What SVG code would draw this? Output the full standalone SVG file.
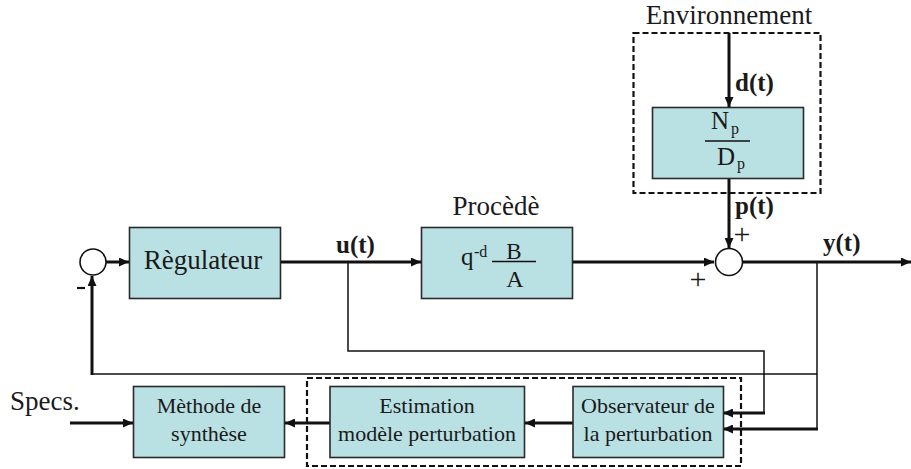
<svg xmlns="http://www.w3.org/2000/svg" width="911" height="469" viewBox="0 0 911 469" font-family="Liberation Serif, DejaVu Serif, serif">
  <defs>
    <marker id="arrow" markerUnits="userSpaceOnUse" markerWidth="11" markerHeight="9" refX="10" refY="4.5" orient="auto">
      <path d="M0,0 L10,4.5 L0,9 z" fill="#111"/>
    </marker>
  </defs>
  <style>
    .box { fill: #b9e0e3; stroke: #2a2a2a; stroke-width: 1.6; }
    .sum { fill: #fff; stroke: #111; stroke-width: 1.6; }
    .dash { fill: none; stroke: #111; stroke-width: 2.2; stroke-dasharray: 6 3; }
    .thick { fill: none; stroke: #111; stroke-width: 3; }
    .thin { fill: none; stroke: #111; stroke-width: 1.5; }
    .arr { marker-end: url(#arrow); }
    text { font-family: 'Liberation Serif', 'DejaVu Serif', serif; fill: #1a1a1a; }
    .lbl { font-size: 27px; }
    .sig { font-size: 25px; font-weight: bold; }
    .small { font-size: 22px; }
    .sub { font-size: 16px; }
    .mid { text-anchor: middle; }
    .sign { font-size: 30px; text-anchor: middle; }
  </style>

  <!-- dashed groupings -->
  <g id="environment">
    <rect class="dash" x="633.5" y="33" width="187" height="160"/>
    <text class="lbl" x="729" y="24" text-anchor="middle">Environnement</text>
  </g>
  <g id="estimation-group">
    <rect class="dash" x="307" y="378" width="434" height="88"/>
  </g>

  <!-- connectors -->
  <g id="connectors">
    <!-- forward path -->
    <line class="thick arr" x1="106" y1="262" x2="129" y2="262"/>
    <line class="thick arr" x1="281" y1="262" x2="421" y2="262"/>
    <line class="thick arr" x1="572" y1="262" x2="714" y2="262"/>
    <line class="thick arr" x1="742" y1="262" x2="911" y2="262"/>
    <!-- disturbance path -->
    <line class="thick arr" x1="729" y1="33" x2="729" y2="107"/>
    <line class="thick arr" x1="729" y1="178" x2="729" y2="248"/>
    <!-- feedback to comparator -->
    <polyline class="thin" points="817,374 92,374"/>
    <line class="thick arr" x1="92" y1="375" x2="92" y2="276"/>
    <!-- u(t) branch to observer -->
    <polyline class="thin" points="348,262 348,351 764,351 764,413"/>
    <line class="thick arr" x1="765" y1="413" x2="723" y2="413"/>
    <!-- y(t) branch to observer -->
    <polyline class="thin" points="817,262 817,429"/>
    <line class="thick arr" x1="818" y1="429" x2="723" y2="429"/>
    <!-- lower chain -->
    <line class="thick arr" x1="573" y1="423" x2="525" y2="423"/>
    <line class="thick arr" x1="330" y1="423" x2="285" y2="423"/>
    <line class="thick arr" x1="70" y1="423" x2="133" y2="423"/>
  </g>

  <!-- comparators -->
  <g id="sum-in">
    <circle class="sum" cx="93" cy="262" r="13"/>
    <line x1="77" y1="288" x2="85" y2="288" stroke="#111" stroke-width="2.2"/>
  </g>
  <g id="sum-out">
    <circle class="sum" cx="729" cy="262" r="13.5"/>
    <text class="sign" x="742" y="244">+</text>
    <text class="sign" x="698" y="289">+</text>
  </g>

  <!-- blocks -->
  <g id="regulateur">
    <rect class="box" x="129.5" y="227.5" width="151" height="71"/>
    <text class="lbl" x="203" y="269" text-anchor="middle">Règulateur</text>
  </g>

  <g id="procede">
    <text class="lbl" x="496" y="215" text-anchor="middle">Procèdè</text>
    <rect class="box" x="421.5" y="227.5" width="151" height="71"/>
    <text x="461" y="265" font-size="25">q</text>
    <text x="474" y="257" font-size="16">-d</text>
    <line x1="492" y1="261.5" x2="536" y2="261.5" stroke="#111" stroke-width="1.5"/>
    <text x="514" y="259" font-size="23" text-anchor="middle">B</text>
    <text x="515" y="287" font-size="24" text-anchor="middle">A</text>
  </g>

  <g id="perturbation">
    <rect class="box" x="652.5" y="107.5" width="151" height="71"/>
    <text x="711" y="129" font-size="25">N</text>
    <text class="sub" x="731" y="134">p</text>
    <line x1="705" y1="141" x2="750" y2="141" stroke="#111" stroke-width="1.5"/>
    <text x="717" y="165" font-size="25">D</text>
    <text class="sub" x="737" y="169">p</text>
  </g>

  <g id="methode">
    <rect class="box" x="133.5" y="386.5" width="151" height="71"/>
    <text class="small mid" x="209" y="413">Mèthode de</text>
    <text class="small mid" x="209" y="441">synthèse</text>
  </g>

  <g id="estimation">
    <rect class="box" x="330" y="386.5" width="194.5" height="71"/>
    <text class="small mid" x="427" y="413">Estimation</text>
    <text class="small mid" x="427" y="441">modèle perturbation</text>
  </g>

  <g id="observateur">
    <rect class="box" x="573" y="386.5" width="150.5" height="71"/>
    <text class="small mid" x="648" y="413">Observateur de</text>
    <text class="small mid" x="648" y="441">la perturbation</text>
  </g>

  <!-- signal labels -->
  <g id="labels">
    <text class="sig" x="336" y="253">u(t)</text>
    <text class="sig" x="823" y="251">y(t)</text>
    <text class="sig" x="735" y="91">d(t)</text>
    <text class="sig" x="735" y="214">p(t)</text>
    <text class="lbl" x="10" y="410">Specs.</text>
  </g>
</svg>
